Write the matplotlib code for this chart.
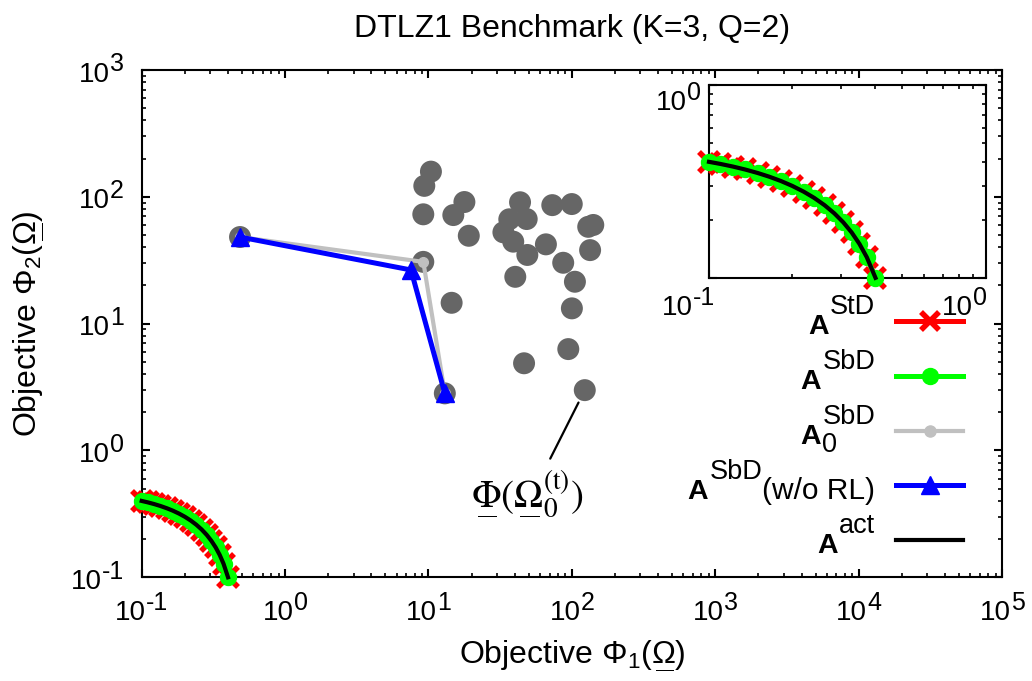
import matplotlib
matplotlib.use("Agg")
import matplotlib.pyplot as plt
from matplotlib.ticker import LogLocator, NullFormatter
from matplotlib.mathtext import MathTextParser
from matplotlib.offsetbox import TextArea, HPacker, VPacker, DrawingArea, AnnotationBbox

plt.rcParams['font.family'] = ['Liberation Sans', 'DejaVu Sans']
plt.rcParams['mathtext.fontset'] = 'custom'
plt.rcParams['mathtext.rm'] = 'Liberation Sans'
plt.rcParams['mathtext.it'] = 'Liberation Sans:italic'
plt.rcParams['mathtext.bf'] = 'Liberation Sans:bold'
plt.rcParams['axes.linewidth'] = 1.5


def ul(s):
    # underline a math symbol, with whatever mathtext can parse
    for tmpl in (r'\underline{%s}', r'\underset{\overline{\hspace{0.9}}}{%s}'):
        try:
            MathTextParser('path').parse('$' + tmpl % s + '$')
            return tmpl % s
        except Exception:
            pass
    return s


#%% data
# Pareto front (A^StD, A^SbD, A^act all lie on it)
front_phi1 = [0.100, 0.110, 0.122, 0.135, 0.150, 0.165, 0.182, 0.200, 0.220,
              0.240, 0.262, 0.284, 0.306, 0.328, 0.350, 0.372, 0.400]
front_phi2 = [0.400, 0.390, 0.378, 0.365, 0.350, 0.335, 0.318, 0.300, 0.280,
              0.260, 0.238, 0.216, 0.194, 0.172, 0.150, 0.128, 0.100]

# initial population Phi(Omega_0^(t))
init_phi1 = [0.485, 10.4, 9.35, 9.2, 17.8, 14.9, 19.1, 43.5, 48.4, 36.6, 33.3,
             39.0, 48.9, 65.9, 73.0, 99.8, 141, 130, 134, 87.0, 105, 100, 94.4,
             46.4, 40.3, 14.5, 9.2, 13.0, 123]
init_phi2 = [48.2, 158, 122, 72.8, 91.0, 71.8, 49.3, 90.6, 66.8, 66.5, 52.5,
             44.3, 34.8, 42.2, 86.0, 87.7, 60.0, 58.0, 38.0, 30.2, 21.4, 13.2,
             6.3, 4.87, 23.4, 14.6, 30.7, 2.82, 2.99]

# A_0^SbD
a0_phi1 = [0.485, 9.2, 13.0]
a0_phi2 = [48.2, 30.7, 2.82]

# A^SbD (w/o RL)
norl_phi1 = [0.485, 7.55, 13.0]
norl_phi2 = [48.2, 26.5, 2.82]

# tick decades (exponents) for main plot and inset
main_x_exp = [-1, 0, 1, 2, 3, 4, 5]
main_y_exp = [-1, 0, 1, 2, 3]
inset_x_exp = [-1, 0]
inset_y_exp = [0]

#%% styles
red = dict(color='#ff0000', lw=3.6, marker='x', ms=15, mew=4)
green = dict(color='#00ff00', lw=3.6, marker='o', ms=11.5)
grey = dict(color='#c0c0c0', lw=3, marker='o', ms=7)
blue = dict(color='#0000ff', lw=3.6, marker='^', ms=12.5)
black = dict(color='k', lw=3)


def draw_front(a):
    a.plot(front_phi1, front_phi2, clip_on=False, zorder=5, **red)
    a.plot(front_phi1, front_phi2, clip_on=False, zorder=6, **green)
    a.plot(front_phi1, front_phi2, clip_on=False, zorder=7, **black)


def style_axes(a):
    a.set_xscale('log')
    a.set_yscale('log')
    for axis in (a.xaxis, a.yaxis):
        axis.set_major_locator(LogLocator(base=10, numticks=20))
        axis.set_minor_locator(LogLocator(base=10, subs=range(2, 10), numticks=20))
        axis.set_major_formatter(NullFormatter())
        axis.set_minor_formatter(NullFormatter())
    a.tick_params(which='both', direction='in', top=True, right=True)
    a.tick_params(which='major', length=5.8, width=1.5)
    a.tick_params(which='minor', length=2.9, width=1.2)


def power_label(a, exp, axis, pad, shift=(0, 0), size=20):
    # gnuplot-like "10^n" label with a full-size superscript
    base = TextArea('10', textprops=dict(fontsize=size))
    sup = VPacker(children=[TextArea(str(exp), textprops=dict(fontsize=size * 0.9)),
                            DrawingArea(1, 8)], pad=0, sep=0)
    box = HPacker(children=[base, sup], align='bottom', pad=0, sep=0)
    if axis == 'x':
        ab = AnnotationBbox(box, (10.0 ** exp, 0), xycoords=('data', 'axes fraction'),
                            xybox=(shift[0], -pad + shift[1]), boxcoords='offset points',
                            box_alignment=(0.5, 1), frameon=False,
                            annotation_clip=False, pad=0)
    else:
        ab = AnnotationBbox(box, (0, 10.0 ** exp), xycoords=('axes fraction', 'data'),
                            xybox=(-pad + shift[0], shift[1]), boxcoords='offset points',
                            box_alignment=(1, 0.5), frameon=False,
                            annotation_clip=False, pad=0)
    a.add_artist(ab)


#%% main plot
fig = plt.figure(figsize=(10.32, 6.81), dpi=100)
ax = fig.add_axes([0.1373, 0.1523, 0.8337, 0.7449])
style_axes(ax)
ax.set_xlim(0.1, 1e5)
ax.set_ylim(0.1, 1e3)
for e in main_x_exp:
    power_label(ax, e, 'x', 10)
for e in main_y_exp:
    power_label(ax, e, 'y', 13)

ax.scatter(init_phi1, init_phi2, s=250, color='#666666', edgecolors='none', zorder=2)
ax.plot(a0_phi1, a0_phi2, zorder=3, **grey)
ax.plot(norl_phi1, norl_phi2, zorder=4, **blue)
draw_front(ax)

ax.set_title('DTLZ1 Benchmark (K=3, Q=2)', fontsize=23, pad=24)
ax.set_xlabel(r'Objective $\Phi_1(' + ul(r'\Omega') + r')$', fontsize=23)
ax.set_ylabel(r'Objective $\Phi_2(' + ul(r'\Omega') + r')$', fontsize=23)
ax.xaxis.set_label_coords(0.5, -0.122)
ax.yaxis.set_label_coords(-0.112, 0.5)

ax.annotate(r'$' + ul(r'\Phi') + '(' + ul(r'\Omega') + r'_0^{(\mathrm{t})})$',
            xy=(init_phi1[-1], init_phi2[-1]), xytext=(48.7, 0.371),
            ha='center', va='baseline', fontsize=28, math_fontfamily='stix',
            arrowprops=dict(arrowstyle='-', color='k', lw=1.6,
                            shrinkA=6, shrinkB=10, relpos=(0.55, 0.5)))

#%% legend (drawn by hand, gnuplot style)
handle_x = [0.8768, 0.9158, 0.9547]
label_x = 0.8524
entries = [
    (0.506, dict(red, ms=13), 'StD', None, None),
    (0.397, green, 'SbD', None, None),
    (0.289, dict(grey, ms=8), 'SbD', '0', None),
    (0.181, dict(blue, ms=12.5), 'SbD', None, '(w/o RL)'),
    (0.0735, black, 'act', None, None),
]
for y, st, sup, sub, tail in entries:
    ax.plot(handle_x, [y] * 3, transform=ax.transAxes, clip_on=False,
            markevery=[1], zorder=8, **st)
    if tail:
        anchor = ax.annotate(tail, xy=(label_x, y), xycoords='axes fraction',
                             xytext=(0, -9.5), textcoords='offset points',
                             ha='right', va='baseline', fontsize=21.5)
        sup_t = ax.annotate(sup, xy=(0, y), xycoords=(anchor, 'axes fraction'),
                            xytext=(0, 5), textcoords='offset points',
                            ha='right', va='baseline', fontsize=19.5)
    else:
        sup_t = ax.annotate(sup, xy=(label_x, y), xycoords='axes fraction',
                            xytext=(0, 5), textcoords='offset points',
                            ha='right', va='baseline', fontsize=19.5)
    if sub:
        ax.annotate(sub, xy=(0, y), xycoords=(sup_t, 'axes fraction'),
                    xytext=(0, -15), textcoords='offset points',
                    ha='left', va='baseline', fontsize=19.5)
    ax.annotate('A', xy=(0, y), xycoords=(sup_t, 'axes fraction'),
                xytext=(-1, -9.5), textcoords='offset points',
                ha='right', va='baseline', fontsize=20.5, fontweight='bold')

#%% inset
ins = fig.add_axes([0.687, 0.592, 0.268, 0.283])
style_axes(ins)
ins.set_xlim(0.1, 1)
ins.set_ylim(0.1, 1)
draw_front(ins)
for e in inset_x_exp:
    power_label(ins, e, 'x', 6, shift=(-15, 0))
for e in inset_y_exp:
    power_label(ins, e, 'y', 6, shift=(0, -9.5))

fig.savefig('out.png', dpi=100)
